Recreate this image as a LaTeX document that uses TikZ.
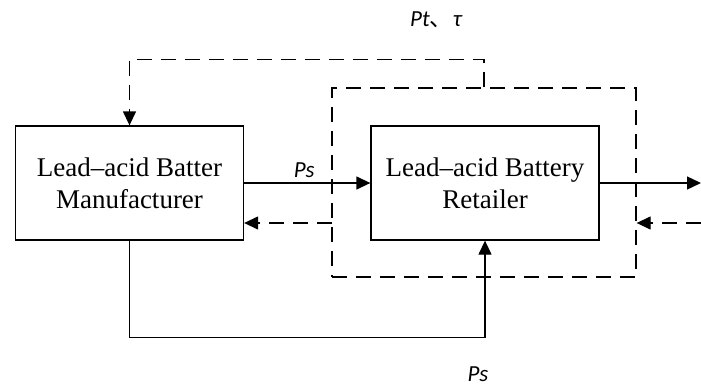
\documentclass[tikz,border=0pt]{standalone}
\usepackage{fontspec}
\setmainfont{Liberation Serif}
\newfontfamily\labfont{Carlito}
\newfontfamily\cjk{Noto Sans CJK SC}
\usepackage{xcolor}
\usepackage{tikz}
\usetikzlibrary{positioning,arrows.meta}

\begin{document}
\begin{tikzpicture}[
  x=1pt, y=-1pt,
  box/.style={draw, line width=1.3pt, minimum width=228pt, minimum height=114pt,
              font=\fontsize{27}{32}\selectfont, align=center, inner sep=0pt},
  frame/.style={draw, dashed, line width=1.3pt, dash pattern=on 15pt off 9pt,
                minimum width=304pt, minimum height=189pt, inner sep=0pt},
  arr/.style={-{Triangle[length=14pt,width=13pt]}, line width=1.3pt},
  darr/.style={arr, dash pattern=on 15pt off 9pt},
  lab/.style={font=\fontsize{23}{26}\selectfont\labfont\itshape}
]
  \useasboundingbox (0,0) rectangle (701,388);

  % Nodes
  \node[frame] (group) at (484,182.5) {};
  \node[box] (manu) at (129.5,183) {Lead--acid Batter\\Manufacturer};
  \node[box] (retail) at (485,183) {Lead--acid Battery\\Retailer};
  \coordinate (outR) at (701,183);
  \coordinate (inR) at (701,223);
  \coordinate (backL) at (332,223);

  % Labels
  \node[lab] (pt) at (436,20) {Pt{\upshape\cjk 、}τ};
  \node[lab] (psdown) at (478,374) {Ps};

  % Arrows
  \draw[arr] (manu) -- node[lab, above=1pt, xshift=-3pt]{Ps} (retail);
  \draw[arr] (retail) -- (outR);
  \draw[darr] (backL) -- (manu.east |- backL);
  \draw[darr] (inR) -- (group.east |- inR);
  \draw[darr] (group.north) -- ++(0,-28) -| (manu.north);
  \draw[arr] (manu.south) -- ++(0,97) -| (retail.south);
\end{tikzpicture}
\end{document}
